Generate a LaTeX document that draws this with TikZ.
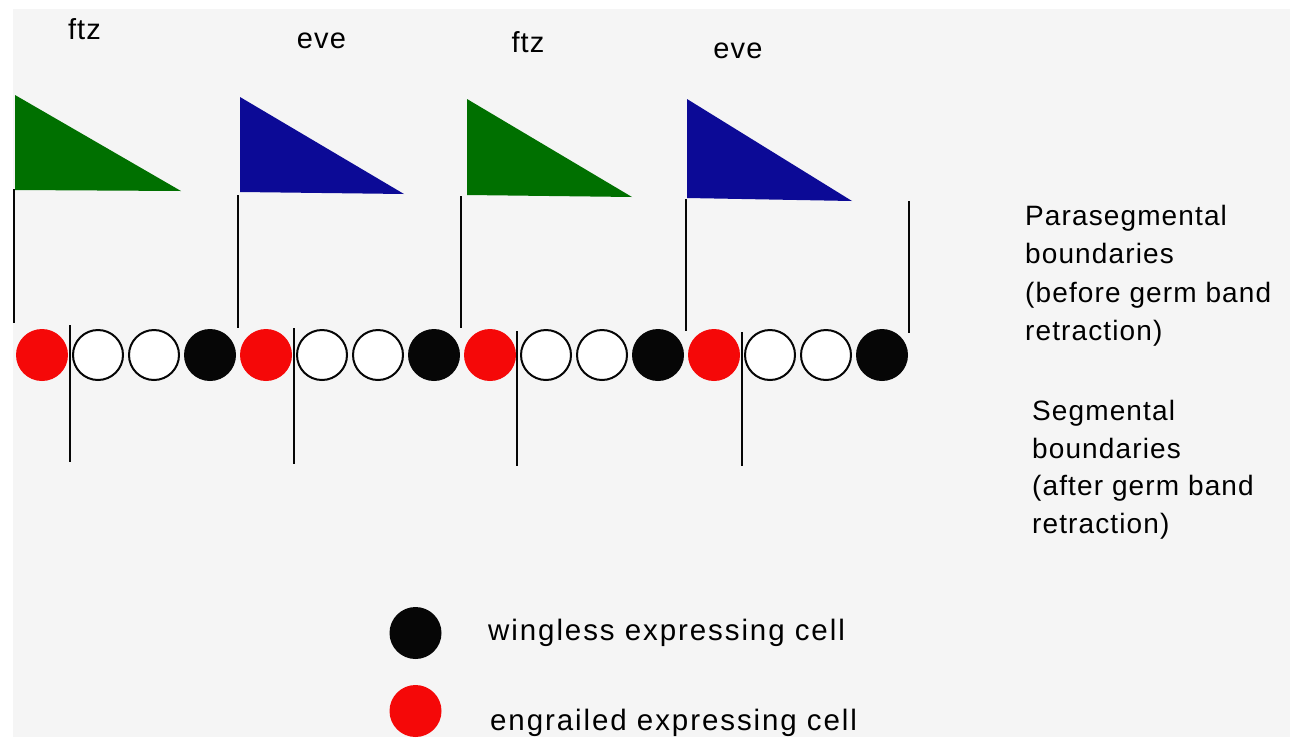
\documentclass[tikz,border=0pt]{standalone}
\usepackage{fontspec}
\setmainfont{Liberation Sans}[LetterSpace=4]
\newfontfamily\legendfont{Liberation Sans}[LetterSpace=6.5]
\definecolor{bggray}{RGB}{245,245,245}
\definecolor{flaggreen}{RGB}{0,112,0}
\definecolor{flagblue}{RGB}{12,10,150}
\definecolor{cellred}{RGB}{245,8,8}
\definecolor{cellblack}{RGB}{6,6,6}
\begin{document}
\begin{tikzpicture}[x=1pt,y=-1pt,
  cell/.style={circle,minimum size=52pt,inner sep=0pt,outer sep=0pt},
  redcell/.style={cell,fill=cellred},
  blackcell/.style={cell,fill=cellblack},
  opencell/.style={cell,draw=cellblack,line width=2pt,fill=white,minimum size=50pt},
  bound/.style={draw=cellblack,line width=2.3pt},
  lbl/.style={anchor=base,inner sep=0pt,font=\fontsize{29}{34}\selectfont},
  side/.style={anchor=base west,inner sep=0pt,font=\fontsize{28}{34}\selectfont},
  legend/.style={anchor=base west,inner sep=0pt,font=\legendfont\fontsize{29.5}{34}\selectfont}
]
\useasboundingbox (0,0) rectangle (1290,737);
\fill[white] (0,0) rectangle (1290,737);
\fill[bggray] (13,9) rectangle (1290,737);

% flags
\fill[flaggreen] (15,95) -- (181,191) -- (15,190) -- cycle;
\fill[flagblue] (240,97) -- (404,194) -- (240,192) -- cycle;
\fill[flaggreen] (467,99) -- (632,197) -- (467,195) -- cycle;
\fill[flagblue] (687,99) -- (852,201) -- (687,198) -- cycle;

% flag labels
\node[lbl] (l1) at (84.5,39) {ftz};
\node[lbl] (l2) at (321.5,48) {eve};
\node[lbl] (l3) at (528,52) {ftz};
\node[lbl] (l4) at (738,58) {eve};

% cells
\foreach \i/\s in {0/redcell,1/opencell,2/opencell,3/blackcell,
                   4/redcell,5/opencell,6/opencell,7/blackcell,
                   8/redcell,9/opencell,10/opencell,11/blackcell,
                   12/redcell,13/opencell,14/opencell,15/blackcell}{
  \node[\s] (c\i) at ({42+56*\i},355) {};
}

% parasegmental boundaries (above)
\coordinate (p1t) at (14,189);  \coordinate (p1b) at (14,323);
\coordinate (p2t) at (238,195); \coordinate (p2b) at (238,328);
\coordinate (p3t) at (461,196); \coordinate (p3b) at (461,328);
\coordinate (p4t) at (686,199); \coordinate (p4b) at (686,331);
\coordinate (p5t) at (909,201); \coordinate (p5b) at (909,333);
\foreach \k in {1,...,5}{ \draw[bound] (p\k t) -- (p\k b); }

% segmental boundaries (below)
\coordinate (s1t) at (70,325);  \coordinate (s1b) at (70,462);
\coordinate (s2t) at (294,328); \coordinate (s2b) at (294,464);
\coordinate (s3t) at (517,331); \coordinate (s3b) at (517,466);
\coordinate (s4t) at (742,332); \coordinate (s4b) at (742,466);
\foreach \k in {1,...,4}{ \draw[bound] (s\k t) -- (s\k b); }

% side texts
\node[side] (pa1) at (1025,225) {Parasegmental};
\node[side] (pa2) at (1025,263) {boundaries};
\node[side] (pa3) at (1025,302) {(before germ band};
\node[side] (pa4) at (1025,340) {retraction)};
\node[side] (se1) at (1032,420) {Segmental};
\node[side] (se2) at (1032,458) {boundaries};
\node[side] (se3) at (1032,495) {(after germ band};
\node[side] (se4) at (1032,533) {retraction)};

% legend
\node[blackcell] (lgb) at (415.5,633) {};
\node[redcell] (lgr) at (415.5,711) {};
\node[legend] (lgbt) at (488,640) {wingless expressing cell};
\node[legend] (lgrt) at (490,730) {engrailed expressing cell};
\end{tikzpicture}
\end{document}
